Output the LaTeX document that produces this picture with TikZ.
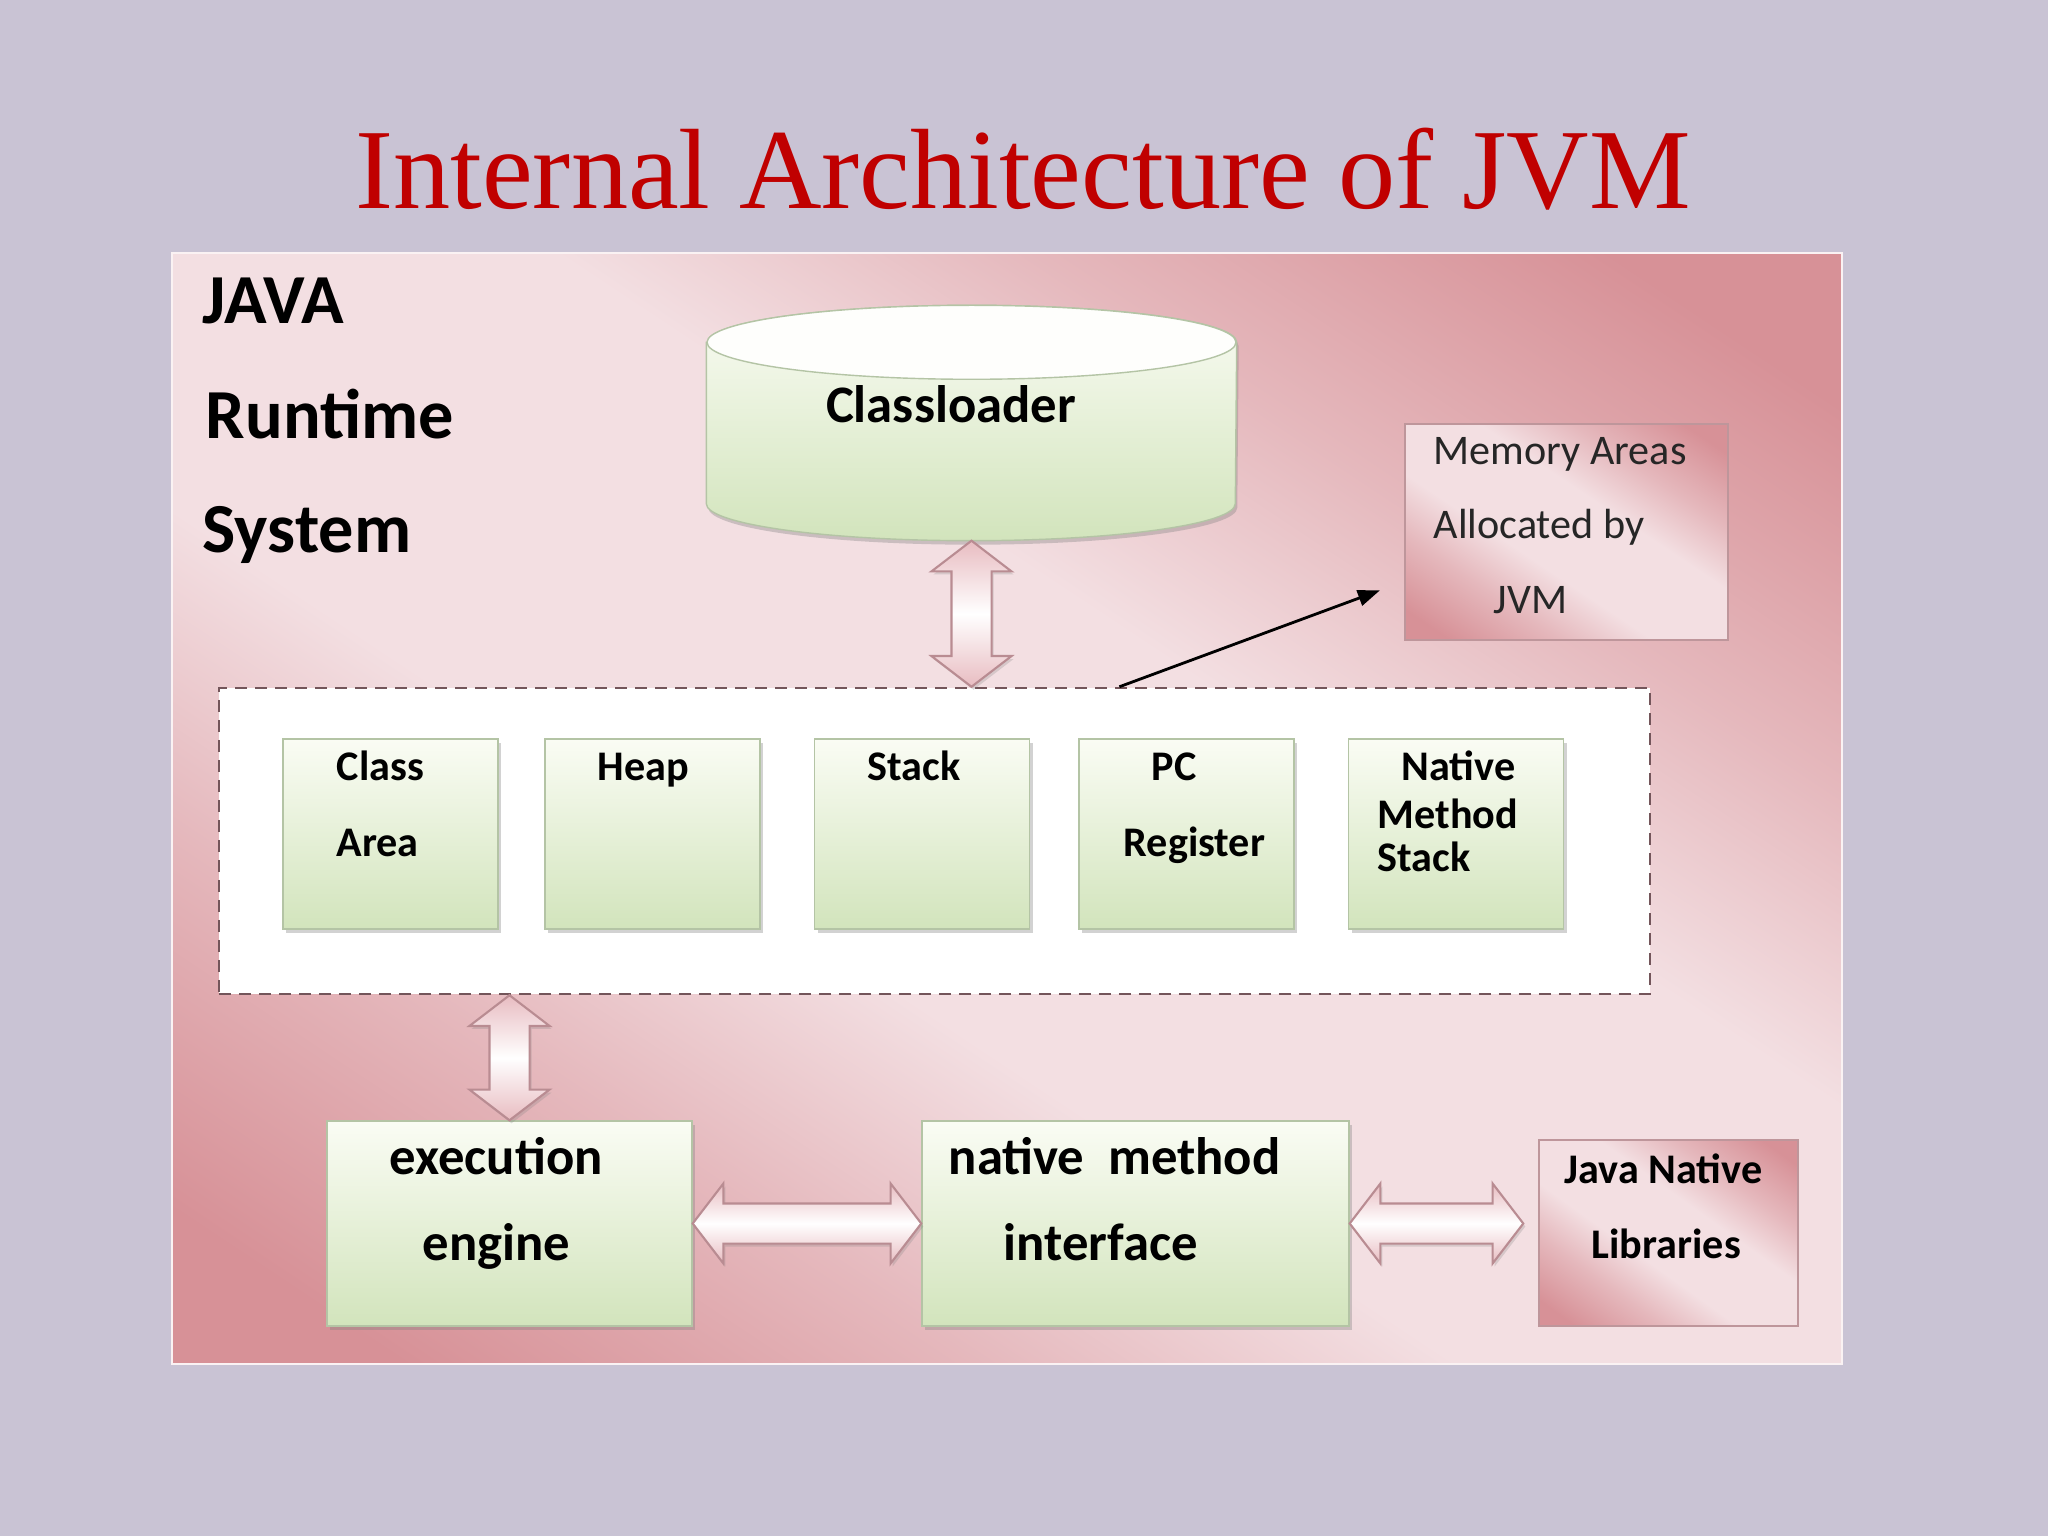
\documentclass[tikz,border=0pt]{standalone}
\usepackage{fontspec}
\setmainfont{Carlito}
\newfontfamily\titlefont{Liberation Serif}
\usetikzlibrary{shapes.arrows, arrows.meta, calc, shadows}
\definecolor{slidebg}{RGB}{201,195,212}
\definecolor{jvmred}{RGB}{192,0,0}
\definecolor{pinklight}{RGB}{243,223,226}
\definecolor{pinkdark}{RGB}{215,145,151}
\definecolor{pinkline}{RGB}{190,150,155}
\definecolor{greentop}{RGB}{250,252,244}
\definecolor{greenbot}{RGB}{210,228,188}
\definecolor{greenline}{RGB}{180,196,165}
\definecolor{dashcol}{RGB}{115,85,90}
\definecolor{arrowpink}{RGB}{232,188,193}
\definecolor{arrowline}{RGB}{185,140,146}

% dark at two opposite corners, light along the other diagonal
\pgfdeclareverticalshading{diaglow}{100bp}{%
  color(0bp)=(pinkdark); color(20bp)=(pinkdark); color(32bp)=(pinkdark!50!pinklight);
  color(42bp)=(pinklight); color(58bp)=(pinklight); color(68bp)=(pinkdark!50!pinklight);
  color(80bp)=(pinkdark); color(100bp)=(pinkdark)}

\tikzset{
  pinkbox/.style={draw=pinkline, shading=diaglow, shading angle=#1, inner sep=0pt},
  greenbox/.style={draw=greenline, top color=greentop, bottom color=greenbot, inner sep=0pt,
      drop shadow={shadow xshift=0.03cm, shadow yshift=-0.04cm, opacity=0.35}},
  blockarrow/.style={double arrow, draw=arrowline, line width=0.6pt,
      inner xsep=0pt, inner ysep=0.19cm,
      top color=arrowpink, bottom color=arrowpink, middle color=white,
      double arrow head extend=0.2cm, double arrow tip angle=105,
      drop shadow={shadow xshift=0.02cm, shadow yshift=-0.03cm, opacity=0.25}},
  sidetxt/.style={font=\fontsize{20}{24}\selectfont\bfseries, anchor=base west, inner sep=0pt},
  boxtxt/.style={font=\fontsize{12}{14}\selectfont\bfseries, anchor=base west, inner sep=0pt},
  bigtxt/.style={font=\fontsize{15}{18}\selectfont\bfseries, anchor=base west, inner sep=0pt},
  memtxt/.style={font=\fontsize{12}{14}\selectfont, text=black!85, anchor=base west, inner sep=0pt}
}

% block arrow between two points: name, from, to
\newcommand{\bigarrow}[3]{%
  \path let \p1=(#2), \p2=(#3), \n1={veclen(\x2-\x1,\y2-\y1)},
    \n2={atan2(\y2-\y1,\x2-\x1)} in
    node[blockarrow, rotate=\n2, minimum height=\n1] (#1) at ($(\p1)!.5!(\p2)$) {};}

\begin{document}
\begin{tikzpicture}
\useasboundingbox (0,0) rectangle (20.48,-15.36);
\fill[slidebg] (0,0) rectangle (20.48,-15.36);

% Title
\node[font=\titlefont\fontsize{32.5}{40}\selectfont, text=jvmred, anchor=base, inner sep=0pt]
  (title) at (10.23,-2.09) {Internal Architecture of JVM};

% Runtime frame
\node[pinkbox=-33.6, draw=white!60!pinklight, line width=0.8pt,
  minimum width=16.70cm, minimum height=11.11cm] (frame) at (10.07,-8.085) {};
\node[sidetxt] (java) at (2.02,-3.24) {JAVA};
\node[sidetxt] (runtime) at (2.05,-4.39) {Runtime};
\node[sidetxt] (system) at (2.02,-5.52) {System};

% Classloader cylinder
\node[minimum width=5.29cm, minimum height=2.34cm] (cl) at (9.715,-4.23) {};
\shade[top color=greentop, bottom color=greenbot, draw=greenline,
  drop shadow={shadow xshift=0.02cm, shadow yshift=-0.04cm, opacity=0.35}]
  ([yshift=-0.37cm]cl.north west) -- ([yshift=0.37cm]cl.south west)
  arc[start angle=180, end angle=360, x radius=2.645, y radius=0.37]
  -- ([yshift=-0.37cm]cl.north east)
  arc[start angle=0, end angle=180, x radius=2.645, y radius=0.37] -- cycle;
\filldraw[fill=white!70!greentop, draw=greenline]
  ([yshift=-0.37cm]cl.north) ellipse [x radius=2.645, y radius=0.37];
\node[bigtxt, anchor=base] (cltxt) at (9.51,-4.22) {Classloader};

% Memory areas note
\node[pinkbox=-33.8, minimum width=3.23cm, minimum height=2.16cm] (mem) at (15.665,-5.32) {};
\node[memtxt] (mem1) at (14.33,-4.65) {Memory Areas};
\node[memtxt] (mem2) at (14.33,-5.39) {Allocated by};
\node[memtxt] (mem3) at (14.93,-6.14) {JVM};

% Runtime data areas
\node[draw=dashcol, fill=white, dash pattern=on 1.2mm off 0.8mm, line width=0.7pt,
  minimum width=14.31cm, minimum height=3.06cm] (areas) at (9.345,-8.41) {};
\node[greenbox, minimum width=2.15cm, minimum height=1.90cm] (clarea) at (3.905,-8.34) {};
\node[greenbox, minimum width=2.15cm, minimum height=1.90cm] (heap) at (6.525,-8.34) {};
\node[greenbox, minimum width=2.15cm, minimum height=1.90cm] (stack) at (9.22,-8.34) {};
\node[greenbox, minimum width=2.15cm, minimum height=1.90cm] (pc) at (11.865,-8.34) {};
\node[greenbox, minimum width=2.15cm, minimum height=1.90cm] (nms) at (14.56,-8.34) {};
\node[boxtxt] (ca1) at (3.36,-7.81) {Class};
\node[boxtxt] (ca2) at (3.36,-8.57) {Area};
\node[boxtxt] (hp1) at (5.97,-7.81) {Heap};
\node[boxtxt] (st1) at (8.67,-7.81) {Stack};
\node[boxtxt] (pc1) at (11.51,-7.81) {PC};
\node[boxtxt] (pc2) at (11.23,-8.57) {Register};
\node[boxtxt] (nm1) at (14.01,-7.81) {Native};
\node[boxtxt] (nm2) at (13.77,-8.28) {Method};
\node[boxtxt] (nm3) at (13.77,-8.72) {Stack};

% Engine, interface, libraries
\node[greenbox, minimum width=3.65cm, minimum height=2.05cm] (exec) at (5.095,-12.235) {};
\node[greenbox, minimum width=4.27cm, minimum height=2.05cm] (nmi) at (11.355,-12.235) {};
\node[pinkbox=-35.7, minimum width=2.59cm, minimum height=1.86cm] (jnl) at (16.685,-12.33) {};
\node[bigtxt] (ex1) at (3.89,-11.74) {execution};
\node[bigtxt] (ex2) at (4.22,-12.60) {engine};
\node[bigtxt] (ni1) at (9.48,-11.74) {native~ method};
\node[bigtxt] (ni2) at (10.03,-12.60) {interface};
\node[boxtxt] (jn1) at (15.64,-11.83) {Java Native};
\node[boxtxt] (jn2) at (15.91,-12.58) {Libraries};

% Connections
\bigarrow{ar1}{cl.south}{cl.south |- areas.north}
\bigarrow{ar2}{areas.south -| exec.north}{exec.north}
\bigarrow{ar3}{exec.east}{nmi.west}
\bigarrow{ar4}{nmi.east}{$(nmi.east -| jnl.west)+(-0.15,0)$}
\draw[-{Triangle[length=0.22cm, width=0.16cm]}, line width=0.8pt, shorten >=0.26cm]
  ($(areas.north west)!0.629!(areas.north east)$) -- ($(mem.north west)!0.727!(mem.south west)$);
\end{tikzpicture}
\end{document}
